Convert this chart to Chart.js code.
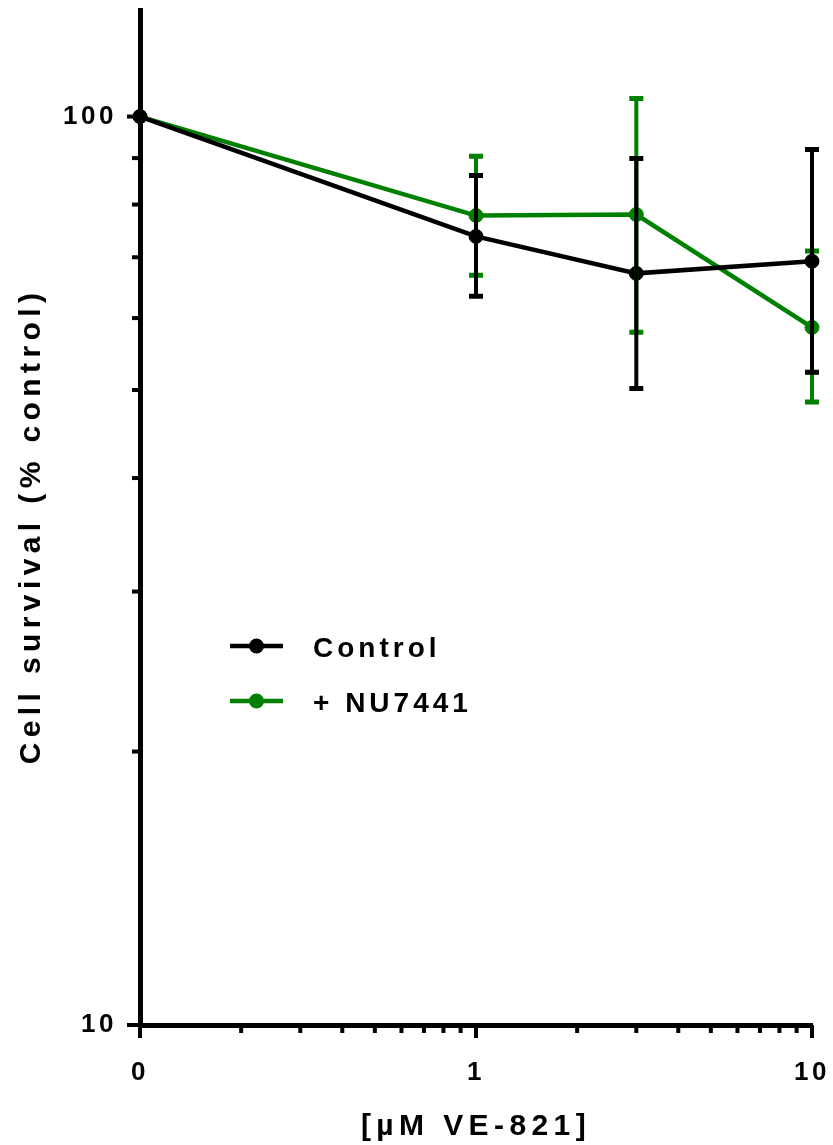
<!DOCTYPE html>
<html>
<head>
<meta charset="utf-8">
<script src="https://cdn.jsdelivr.net/npm/chart.js@4.4.1/dist/chart.umd.min.js"></script>
<style>
  html, body { margin: 0; padding: 0; background: #fff; }
  canvas { display: block; }
</style>
</head>
<body>
<canvas id="chart" width="833" height="1145"></canvas>
<script>
// doses in µM; the 0 dose sits one decade below 1 on the log axis
const doses = [0, 1, 3, 10];
const ZERO_AT = 0.1;

const controlMean  = [100, 73.8, 67.2, 69.3];
const controlUpper = [100, 86.1, 89.9, 92.0];
const controlLower = [100, 63.4, 50.2, 52.3];

const nuMean  = [100, 77.8, 78.0, 58.6];
const nuUpper = [100, 90.4, 104.7, 71.1];
const nuLower = [100, 66.9, 57.9, 48.5];

const xMajorTicks = [0.1, 1, 10];
const xTickLabels = ['0', '1', '10'];
const xMinorTicks = [0.2, 0.3, 0.4, 0.5, 0.6, 0.7, 0.8, 0.9, 2, 3, 4, 5, 6, 7, 8, 9];
const yMajorTicks = [10, 100];
const yTickLabels = ['10', '100'];
const yMinorTicks = [20, 30, 40, 50, 60, 70, 80, 90];

const FONT = "'Liberation Sans', Arial, Helvetica, sans-serif";
const BLACK = '#000000';
const GREEN = '#008000';

function points(means) {
    return doses.map((d, i) => ({ x: d === 0 ? ZERO_AT : d, y: means[i] }));
}

function series(label, color, means, upper, lower) {
    return {
        label: label,
        data: points(means),
        upper: upper,
        lower: lower,
        borderColor: color,
        backgroundColor: color,
        pointBackgroundColor: color,
        pointBorderColor: color,
        borderWidth: 4.5,
        pointRadius: 7,
        pointBorderWidth: 1,
        tension: 0,
        clip: false,
    };
}

// no extra room for half-labels at the axis ends
function noPad(s) {
    s.paddingTop = 0;
    s.paddingBottom = 0;
    s.paddingLeft = 0;
    s.paddingRight = 0;
}

const tickMarks = {
    id: 'tickMarks',
    beforeDatasetsDraw(chart) {
        const { ctx, chartArea } = chart;
        const xs = chart.scales.x, ys = chart.scales.y;
        ctx.save();
        ctx.strokeStyle = BLACK;
        ctx.lineWidth = 4;
        const yTick = (v, len) => {
            const p = ys.getPixelForValue(v);
            ctx.beginPath();
            ctx.moveTo(chartArea.left - len, p);
            ctx.lineTo(chartArea.left, p);
            ctx.stroke();
        };
        const xTick = (v, len) => {
            const p = xs.getPixelForValue(v);
            ctx.beginPath();
            ctx.moveTo(p, chartArea.bottom);
            ctx.lineTo(p, chartArea.bottom + len);
            ctx.stroke();
        };
        yMajorTicks.forEach(v => yTick(v, 13));
        yMinorTicks.forEach(v => yTick(v, 8));
        xMajorTicks.forEach(v => xTick(v, 13));
        xMinorTicks.forEach(v => xTick(v, 8));
        ctx.restore();
    }
};

const errorBars = {
    id: 'errorBars',
    afterDatasetsDraw(chart) {
        const { ctx } = chart;
        const xs = chart.scales.x, ys = chart.scales.y;
        ctx.save();
        // last dataset first so Control ends up on top
        for (let i = chart.data.datasets.length - 1; i >= 0; i--) {
            const ds = chart.data.datasets[i];
            ctx.strokeStyle = ds.borderColor;
            ds.data.forEach((pt, j) => {
                if (ds.upper[j] === ds.lower[j]) return;
                const px = xs.getPixelForValue(pt.x);
                const top = ys.getPixelForValue(ds.upper[j]);
                const bot = ys.getPixelForValue(ds.lower[j]);
                ctx.lineWidth = 4;
                ctx.beginPath();
                ctx.moveTo(px, top);
                ctx.lineTo(px, bot);
                ctx.stroke();
                ctx.lineWidth = 5;
                ctx.beginPath();
                ctx.moveTo(px - 7, top);
                ctx.lineTo(px + 7, top);
                ctx.moveTo(px - 7, bot);
                ctx.lineTo(px + 7, bot);
                ctx.stroke();
            });
        }
        ctx.restore();
    }
};

const textBits = {
    id: 'textBits',
    beforeDraw(chart) {
        chart.ctx.letterSpacing = '3.5px';
    },
    afterDraw(chart) {
        const { ctx, chartArea } = chart;
        ctx.save();
        ctx.fillStyle = BLACK;

        // legend
        ctx.font = 'bold 28px ' + FONT;
        ctx.letterSpacing = '4px';
        ctx.textAlign = 'left';
        ctx.textBaseline = 'alphabetic';
        const rows = [646, 701];
        chart.data.datasets.forEach((ds, i) => {
            const y = rows[i];
            ctx.strokeStyle = ds.borderColor;
            ctx.fillStyle = ds.borderColor;
            ctx.lineWidth = 4.5;
            ctx.beginPath();
            ctx.moveTo(230, y);
            ctx.lineTo(283, y);
            ctx.stroke();
            ctx.beginPath();
            ctx.arc(256.5, y, 7.5, 0, Math.PI * 2);
            ctx.fill();
            ctx.fillStyle = BLACK;
            ctx.fillText(ds.label, 313, y + 11);
        });

        // axis titles
        ctx.font = 'bold 30px ' + FONT;
        ctx.letterSpacing = '5.4px';
        ctx.textAlign = 'center';
        ctx.fillText('[µM VE-821]', (chartArea.left + chartArea.right) / 2, 1135);

        ctx.translate(40, 526);
        ctx.rotate(-Math.PI / 2);
        ctx.fillText('Cell survival (% control)', 0, 0);
        ctx.restore();
    }
};

new Chart(document.getElementById('chart'), {
    type: 'line',
    data: {
        datasets: [
            series('Control', BLACK, controlMean, controlUpper, controlLower),
            series('+ NU7441', GREEN, nuMean, nuUpper, nuLower),
        ]
    },
    options: {
        responsive: false,
        animation: false,
        layout: { padding: { top: 10, right: 21, left: 0, bottom: 0 } },
        scales: {
            x: {
                type: 'logarithmic',
                min: 0.1,
                max: 10,
                afterFit: s => { s.height = 120; noPad(s); },
                afterBuildTicks: s => { s.ticks = xMajorTicks.map(v => ({ value: v })); },
                grid: { display: false, drawTicks: false },
                border: { display: true, color: BLACK, width: 5 },
                ticks: {
                    autoSkip: false,
                    maxRotation: 0,
                    padding: 32,
                    color: BLACK,
                    font: { family: FONT, size: 26, weight: 'bold' },
                    callback: (v) => xTickLabels[xMajorTicks.indexOf(v)] ?? '',
                },
            },
            y: {
                type: 'logarithmic',
                min: 10,
                max: 131,
                afterFit: s => { s.width = 140; noPad(s); },
                afterBuildTicks: s => { s.ticks = yMajorTicks.map(v => ({ value: v })); },
                grid: { display: false, drawTicks: false },
                border: { display: true, color: BLACK, width: 5 },
                ticks: {
                    autoSkip: false,
                    padding: 23,
                    color: BLACK,
                    font: { family: FONT, size: 26, weight: 'bold' },
                    callback: (v) => yTickLabels[yMajorTicks.indexOf(v)] ?? '',
                },
            },
        },
        plugins: {
            legend: { display: false },
            tooltip: { enabled: false },
        },
    },
    plugins: [tickMarks, errorBars, textBits],
});
</script>
</body>
</html>
